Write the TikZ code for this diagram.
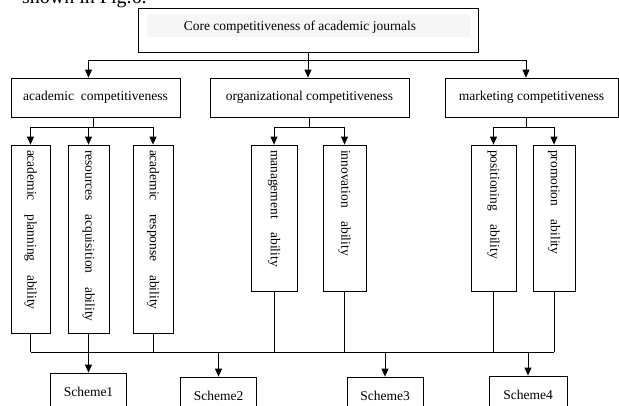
\documentclass[tikz,border=0pt]{standalone}
\usepackage{fontspec}
\setmainfont{Liberation Serif}
\usepackage{tikz}
\usetikzlibrary{arrows.meta}

\tikzset{
  hbox/.style={draw, minimum height=39pt, inner sep=0pt},
  vbox/.style={draw, rotate=-90, inner xsep=5pt, inner ysep=0pt, align=left, text width=#1, minimum height=40pt},
  schemebox/.style={draw, minimum width=76pt, minimum height=38pt, inner sep=0pt}
}

\begin{document}
\begin{tikzpicture}[x=1pt,y=-1pt,font=\fontsize{13.5}{15}\selectfont,line width=0.8pt]
\clip (0,0) rectangle (619,405);
\begin{scope}[>={Triangle[length=8pt,width=7pt]}]

    % leftover of the text above
    \node[anchor=base east, inner sep=0pt, font=\fontsize{20}{24}\selectfont] (caption) at (147,3) {shown in Fig.6.};

    % top
    \node[draw, minimum width=340pt, minimum height=44pt] (core) at (308,30) {};
    \fill[gray!7] (147,14) rectangle (470,37);
    \node (coretext) at (300,27) {Core competitiveness of academic journals};

    % second level
    \node[hbox, minimum width=169pt] (acad) at (95.5,97.5) {academic~ competitiveness};
    \node[hbox, minimum width=199pt] (org) at (309.5,97.5) {organizational competitiveness};
    \node[hbox, minimum width=173pt] (mkt) at (531.5,97.5) {marketing competitiveness};

    % third level
    \node[vbox=178pt, minimum height=39pt] (plan) at (30.5,239) {academic\quad planning\quad ability};
    \node[vbox=178pt, minimum height=41pt] (res) at (88.5,239) {resources\quad acquisition\quad ability};
    \node[vbox=178pt] (resp) at (153,239) {academic\quad response\quad ability};
    \node[vbox=136pt, minimum height=46pt] (mgmt) at (274,218) {management\quad ability};
    \node[vbox=136pt, minimum height=43pt] (innov) at (344.5,218) {innovation\quad ability};
    \node[vbox=136pt, minimum height=45pt] (pos) at (493.5,218) {positioning\quad ability};
    \node[vbox=136pt, minimum height=42pt] (prom) at (554,218) {promotion\quad ability};

    % schemes
    \node[schemebox] (s1) at (88.5,392) {Scheme1};
    \node[schemebox] (s2) at (218.5,396) {Scheme2};
    \node[schemebox] (s3) at (385,396) {Scheme3};
    \node[schemebox, minimum width=78pt] (s4) at (528,395) {Scheme4};

    % top -> second level
    \coordinate (j0) at (308,60);
    \draw (core.south) -- (j0);
    \draw[->] (j0) -| ([xshift=-7pt]acad.north);
    \draw[->] (j0) -- (j0 |- org.north);
    \draw[->] (j0) -| ([xshift=-5.5pt]mkt.north);

    % second -> third level
    \coordinate (j1) at (93,127);
    \draw (j1 |- acad.south) -- (j1);
    \draw[->] (j1) -| (plan.west);
    \draw[->] (j1) -| (res.west);
    \draw[->] (j1) -| (resp.west);
    \coordinate (j2) at (309.5,127);
    \draw (org.south) -- (j2);
    \draw[->] (j2) -| (mgmt.west);
    \draw[->] (j2) -| (innov.west);
    \coordinate (j3) at (526,127);
    \draw (j3 |- mkt.south) -- (j3);
    \draw[->] (j3) -| (pos.west);
    \draw[->] (j3) -| (prom.west);

    % third level -> schemes
    \coordinate (busL) at (30.5,352);
    \coordinate (busR) at (554,352);
    \draw (busL) -- (busR);
    \foreach \b in {plan,res,resp,mgmt,innov,pos,prom}
        \draw (\b.east) -- (\b.east |- busL);
    \foreach \s in {s1,s2,s3,s4}
        \draw[->] (\s.north |- busL) -- (\s.north);

\end{scope}
\end{tikzpicture}
\end{document}
